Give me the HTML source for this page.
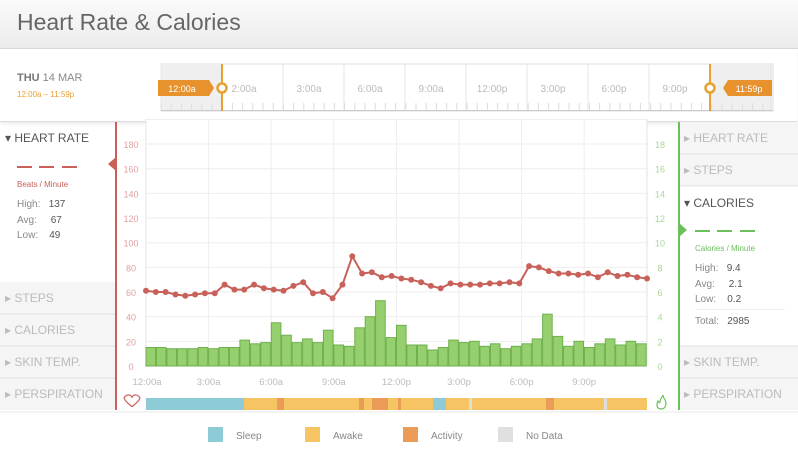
<!DOCTYPE html>
<html><head><meta charset="utf-8"><style>
body{margin:0;width:798px;height:457px;overflow:hidden;background:#fff;font-family:"Liberation Sans",sans-serif;position:relative}
.abs{position:absolute}
.d{position:absolute;height:2px;width:15px}
</style></head><body>
<div class="abs" style="left:0;top:0;width:798px;height:48px;background:linear-gradient(#fafafa,#ececec);border-bottom:1px solid #d6d6d6"></div>
<div class="abs" style="left:17px;top:9px;font-size:23px;color:#666">Heart Rate &amp; Calories</div>
<div class="abs" style="left:0;top:49px;width:797px;height:72px;border-bottom:1px solid #ddd;box-shadow:0 2px 3px rgba(0,0,0,0.08)"></div>
<div class="abs" style="left:17px;top:72px;font-size:11px;color:#888"><b style="color:#777">THU</b> 14 MAR</div>
<div class="abs" style="left:17px;top:90px;font-size:8px;color:#e8a030">12:00a – 11:59p</div>
<svg class="abs" style="left:0;top:0" width="798" height="457" id="s"></svg>
<script>
var s='';
function R(x,y,w,h,f,e){s+='<rect x="'+x+'" y="'+y+'" width="'+w+'" height="'+h+'" fill="'+f+'" '+(e||'')+'/>';}
function L(x1,y1,x2,y2,c,w){s+='<line x1="'+x1+'" y1="'+y1+'" x2="'+x2+'" y2="'+y2+'" stroke="'+c+'" stroke-width="'+(w||1)+'"/>';}
function T(x,y,t,c,sz,a,ex){s+='<text x="'+x+'" y="'+y+'" fill="'+c+'" font-size="'+sz+'" text-anchor="'+(a||'start')+'" font-family="Liberation Sans,sans-serif" '+(ex||'')+'>'+t+'</text>';}
R(161,64,612,47,'#fff','stroke="#ddd"');
R(161,64,61,47,'#efefef');R(710,64,63,47,'#efefef');
for(var i=0;i<=10;i++){var x=161+61*i;L(x,64,x,111,'#e6e6e6');}
for(var i=0;i<60;i++){var x=161+i*10.2;L(x,103,x,111,'#ddd');}
L(161,110.5,773,110.5,'#ccc');
var tl=['2:00a','3:00a','6:00a','9:00a','12:00p','3:00p','6:00p','9:00p'];
for(var i=0;i<8;i++)T(248+61*i+(i==0?-4:0),92,tl[i],'#bbb',10,'middle');
L(222,64,222,111,'#e8a030',2);L(710,64,710,111,'#e8a030',2);
s+='<circle cx="222" cy="88" r="4.5" fill="#fff" stroke="#e8a030" stroke-width="2.5"/><circle cx="710" cy="88" r="4.5" fill="#fff" stroke="#e8a030" stroke-width="2.5"/>';
s+='<path d="M158 80h51l5 8-5 8h-51z" fill="#e8922e"/>';T(182,92,'12:00a','#fff',9,'middle');
s+='<path d="M772 80h-44l-5 8 5 8h44z" fill="#e8922e"/>';T(749,92,'11:59p','#fff',9,'middle');
R(0,282,116,128,'#f5f5f5');R(679,122,119,64,'#f5f5f5');R(679,346,119,64,'#f5f5f5');
[314,346,378].forEach(function(y){L(0,y,116,y,'#e4e4e4');});
[154,186,346,378].forEach(function(y){L(679,y,798,y,'#e4e4e4');});
var x0=146,x1=647,y0=366,k=1.233;
R(x0,119,x1-x0,247,'#fff');
for(var v=20;v<=200;v+=20){var y=y0-v*k;L(x0,y,x1,y,'#eee');}
for(var i=0;i<=8;i++){var x=x0+i*62.6;L(x,119,x,366,'#eee');}
L(x0,119,x0,366,'#e4e4e4');L(x1,119,x1,366,'#e4e4e4');
for(var v=0;v<=180;v+=20){T(131,y0-v*k+4,v,'#e0a0a0',9,'middle');T(660,y0-v*k+4,v/10,'#a8d898',9,'middle');}
var b=[15,15,14,14,14,15,14,15,15,21,18,19,35,25,19,22,19,29,17,16,31,40,53,23,33,17,17,13,15,21,19,20,16,18,14,16,18,22,42,24,16,20,15,18,22,17,20,18];
var bw=(x1-x0)/48;
for(var i=0;i<48;i++){var h=b[i]*k;R((x0+i*bw).toFixed(1),(y0-h).toFixed(1),(bw-0.8).toFixed(1),h.toFixed(1),'#96cf6e','stroke="#6fb04c" stroke-width="1"');}
var hr=[61,60,60,58,57,58,59,59,66,62,62,66,63,62,61,65,68,59,60,55,66,89,75,76,72,73,71,70,68,65,63,67,66,66,66,67,67,68,67,81,80,77,75,75,74,75,72,76,73,74,72,71];
var n=hr.length,pts='',dots='';
for(var i=0;i<n;i++){var x=(x0+i*(x1-x0)/(n-1)).toFixed(1),y=(y0-hr[i]*k).toFixed(1);pts+=x+','+y+' ';dots+='<circle cx="'+x+'" cy="'+y+'" r="3" fill="#c8615a"/>';}
s+='<polyline points="'+pts+'" fill="none" stroke="#c8615a" stroke-width="2"/>'+dots;
var xl=['12:00a','3:00a','6:00a','9:00a','12:00p','3:00p','6:00p','9:00p'];
for(var i=0;i<8;i++)T(x0+i*62.6+(i==0?1:0),385,xl[i],'#bbb',9.5,'middle');
L(116,122,116,410,'#c8615a',2);L(679,122,679,410,'#6cc05c',2);
s+='<path d="M116 157l-8 7 8 7z" fill="#c8615a"/><path d="M679 223l8 7-8 7z" fill="#6cc05c"/>';
R(146,398,501,12,'#f6c463');R(146,398,98,12,'#8ecbd6');R(433,398,13,12,'#8ecbd6');
[[277,7],[359,5],[372,16],[398,3],[546,8]].forEach(function(a){R(a[0],398,a[1],12,'#eb9c58');});
[[469,3],[604,3]].forEach(function(a){R(a[0],398,a[1],12,'#ddd');});
s+='<path d="M124 398c3-5 8-3 8 0c0-3 5-5 8 0c-1 4-8 8-8 9c0-1-7-5-8-9z" fill="none" stroke="#c8615a" stroke-width="1.2"/>';
s+='<path d="M661 409c-4 0-5-4-3-8c1 2 2 2 2 1c0-3 2-5 3-7c0 3 3 5 3 8c0 4-2 6-5 6z" fill="none" stroke="#6cc05c" stroke-width="1.2"/>';
L(0,412,798,412,'#e8e8e8');
[[208,'#8ecbd6','Sleep'],[305,'#f6c463','Awake'],[403,'#eb9c58','Activity'],[498,'#e0e0e0','No Data']].forEach(function(l){R(l[0],427,15,15,l[1]);T(l[0]+28,439,l[2],'#888',10);});
document.getElementById('s').innerHTML=s;
</script>
<div class="abs" style="left:5px;top:131px;font-size:12px;color:#555">▾ HEART RATE</div>
<div class="d" style="left:17px;top:166px;background:#c8615a"></div><div class="d" style="left:39px;top:166px;background:#c8615a"></div><div class="d" style="left:62px;top:166px;background:#c8615a"></div>
<div class="abs" style="left:17px;top:180px;font-size:8px;color:#c8615a">Beats / Minute</div>
<div class="abs" style="left:17px;top:197px;font-size:10px;color:#888;line-height:15.5px">High:&nbsp;&nbsp;&nbsp;<span style="color:#555">137</span><br>Avg:&nbsp;&nbsp;&nbsp;&nbsp;&nbsp;<span style="color:#555">67</span><br>Low:&nbsp;&nbsp;&nbsp;&nbsp;<span style="color:#555">49</span></div>
<div class="abs" style="left:5px;top:282px;font-size:12px;color:#bbb;line-height:32px">▸ STEPS<br>▸ CALORIES<br>▸ SKIN TEMP.<br>▸ PERSPIRATION</div>
<div class="abs" style="left:684px;top:122px;font-size:12px;color:#bbb;line-height:32px">▸ HEART RATE<br>▸ STEPS</div>
<div class="abs" style="left:684px;top:196px;font-size:12px;color:#555">▾ CALORIES</div>
<div class="d" style="left:695px;top:230px;background:#6cc05c"></div><div class="d" style="left:717px;top:230px;background:#6cc05c"></div><div class="d" style="left:740px;top:230px;background:#6cc05c"></div>
<div class="abs" style="left:695px;top:244px;font-size:8px;color:#6cc05c">Calories / Minute</div>
<div class="abs" style="left:695px;top:261px;font-size:10px;color:#888;line-height:15.5px">High:&nbsp;&nbsp;&nbsp;<span style="color:#555">9.4</span><br>Avg:&nbsp;&nbsp;&nbsp;&nbsp;&nbsp;<span style="color:#555">2.1</span><br>Low:&nbsp;&nbsp;&nbsp;&nbsp;<span style="color:#555">0.2</span></div>
<div class="abs" style="left:695px;top:309px;width:90px;border-top:1px solid #eee"></div>
<div class="abs" style="left:695px;top:316px;font-size:10px;color:#888">Total:&nbsp;&nbsp;&nbsp;<span style="color:#555">2985</span></div>
<div class="abs" style="left:684px;top:346px;font-size:12px;color:#bbb;line-height:32px">▸ SKIN TEMP.<br>▸ PERSPIRATION</div>
</body></html>
